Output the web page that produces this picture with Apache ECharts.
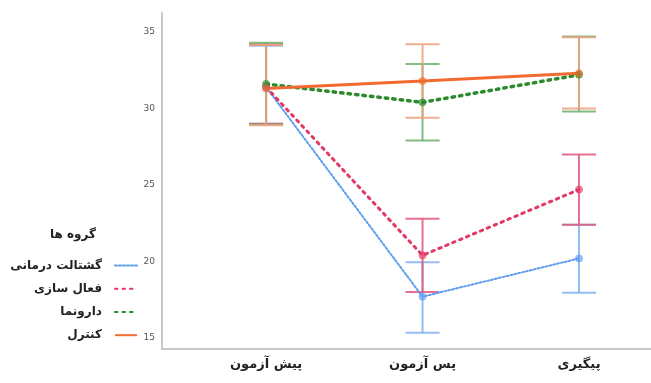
<!DOCTYPE html>
<html><head><meta charset="utf-8">
<script src="https://cdn.jsdelivr.net/npm/echarts@6/dist/echarts.min.js"></script>
<style>html,body{margin:0;padding:0;background:#fff}#c{width:651px;height:383px}</style>
</head><body><div id="c"></div>
<script>
const categories = ['پیش آزمون', 'پس آزمون', 'پیگیری'];
const groupNames = ['گشتالت درمانی', 'فعال سازی', 'دارونما', 'کنترل'];
const yTicks = [15, 20, 25, 30, 35];

const gestaltMean = [31.4, 17.7, 20.2];
const gestaltLow  = [29.0, 15.35, 17.95];
const gestaltHigh = [34.1, 19.95, 22.4];

const activationMean = [31.4, 20.4, 24.7];
const activationLow  = [29.0, 18.0, 22.4];
const activationHigh = [34.2, 22.8, 27.0];

const placeboMean = [31.6, 30.4, 32.2];
const placeboLow  = [28.95, 27.9, 29.8];
const placeboHigh = [34.3, 32.9, 34.7];

const controlMean = [31.3, 31.8, 32.3];
const controlLow  = [28.9, 29.4, 30.0];
const controlHigh = [34.15, 34.2, 34.65];

const FONT = "'DejaVu Sans', sans-serif";
const chart = echarts.init(document.getElementById('c'), null, {renderer: 'canvas'});

function lineData(means) { return means.map((v, i) => [i, v]); }
function barData(lo, hi) { return lo.map((v, i) => [i, v, hi[i]]); }
function errSeries(lo, hi, color) {
  return {
    type: 'custom', z: 1, silent: true,
    data: barData(lo, hi),
    renderItem: function (params, api) {
      const x = api.value(0);
      const a = api.coord([x, api.value(1)]);
      const b = api.coord([x, api.value(2)]);
      const w = 17;
      const st = {stroke: color, lineWidth: 2, opacity: 0.85};
      return {type: 'group', children: [
        {type: 'line', shape: {x1: a[0], y1: a[1], x2: b[0], y2: b[1]}, style: st},
        {type: 'line', shape: {x1: a[0] - w, y1: a[1], x2: a[0] + w, y2: a[1]}, style: st},
        {type: 'line', shape: {x1: b[0] - w, y1: b[1], x2: b[0] + w, y2: b[1]}, style: st}
      ]};
    }
  };
}
function lineSeries(name, means, color, width, dash) {
  return {
    name: name, type: 'line', z: 3,
    data: lineData(means),
    symbol: 'circle', symbolSize: 7,
    itemStyle: {color: color, opacity: 0.6, borderColor: color, borderWidth: 1},
    lineStyle: {color: color, width: width, type: dash || 'solid', cap: dash ? 'round' : 'butt'},
    emphasis: {disabled: true}
  };
}

chart.setOption({
  animation: false,
  title: {
    text: 'گروه ها', right: 550, top: 224,
    textStyle: {fontFamily: FONT, fontSize: 12, fontWeight: 'bold', color: '#222'}
  },
  legend: {
    orient: 'vertical', align: 'right', right: 508, top: 254,
    itemWidth: 22, itemHeight: 14, itemGap: 10,
    data: groupNames,
    itemStyle: {opacity: 0},
    textStyle: {fontFamily: FONT, fontSize: 12, fontWeight: 'bold', color: '#222', padding: [0, 8, 0, 0]}
  },
  grid: {left: 162, right: 0, top: 13, bottom: 34, containLabel: false},
  xAxis: {
    type: 'value', min: -0.665, max: 2.46,
    axisLine: {show: true, onZero: false, lineStyle: {color: '#c8c8c8', width: 2}},
    axisTick: {show: false},
    splitLine: {show: false},
    axisLabel: {
      customValues: [0, 1, 2],
      formatter: v => categories[Math.round(v)],
      fontFamily: FONT, fontSize: 13, fontWeight: 'bold', color: '#222', margin: 9
    }
  },
  yAxis: {
    type: 'value', min: 14.28, max: 36.24,
    axisLine: {show: true, onZero: false, lineStyle: {color: '#c8c8c8', width: 2}},
    axisTick: {show: false},
    splitLine: {show: false},
    axisLabel: {customValues: yTicks, fontFamily: FONT, fontSize: 9, color: '#555', margin: 7}
  },
  series: [
    errSeries(gestaltLow, gestaltHigh, '#82b0f2'),
    errSeries(activationLow, activationHigh, '#e2577a'),
    errSeries(placeboLow, placeboHigh, '#6fb06f'),
    errSeries(controlLow, controlHigh, '#eda07e'),
    lineSeries(groupNames[0], gestaltMean, '#5f9cf0', 2, [2, 2]),
    lineSeries(groupNames[1], activationMean, '#e23a64', 3, [2.5, 5]),
    lineSeries(groupNames[2], placeboMean, '#2b8a2b', 3.5, [2.5, 5]),
    lineSeries(groupNames[3], controlMean, '#f26a30', 3, null)
  ]
});
</script></body></html>
